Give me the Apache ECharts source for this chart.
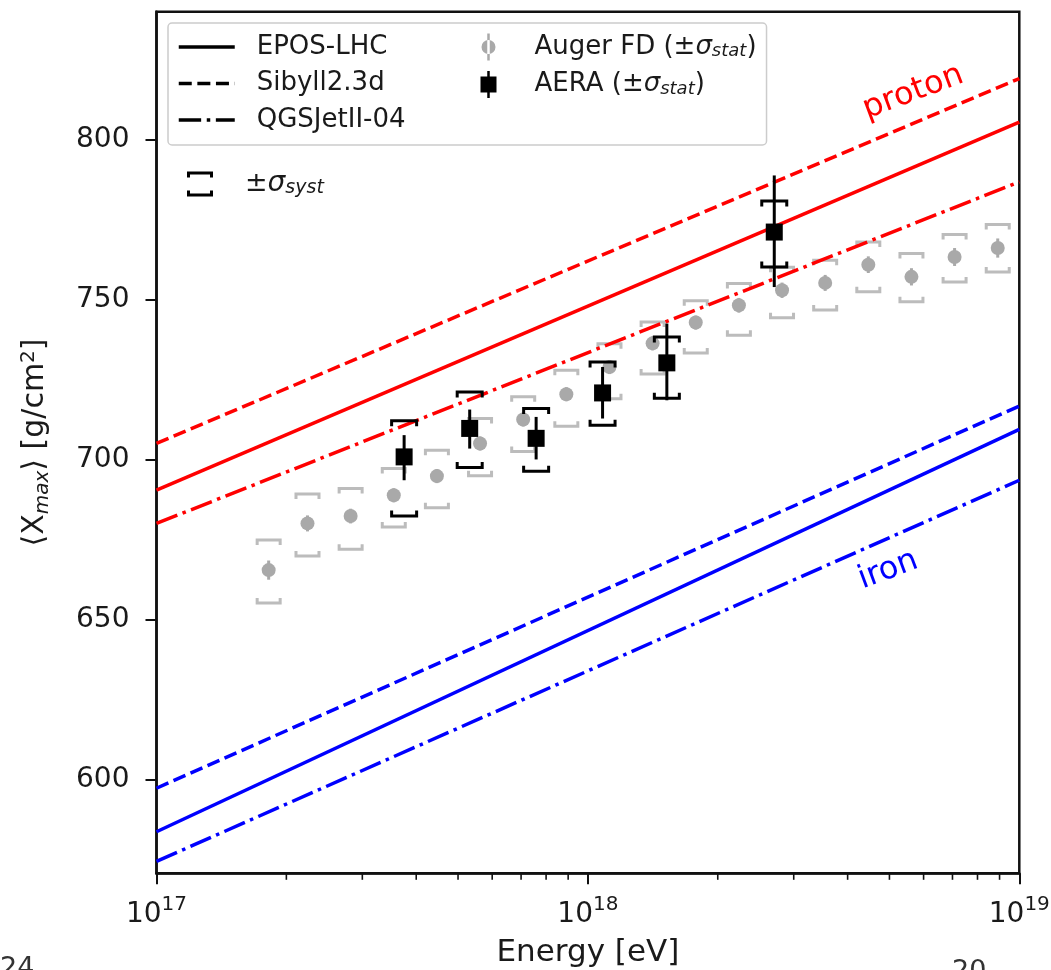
<!DOCTYPE html>
<html>
<head>
<meta charset="utf-8">
<script src="https://cdn.jsdelivr.net/npm/echarts@6/dist/echarts.min.js"></script>
<style>
  html, body { margin: 0; padding: 0; background: #fff; }
  #main { width: 1051px; height: 970px; }
</style>
</head>
<body>
<div id="main"></div>
<script>
const FONT = 'DejaVu Sans';
const INK = '#1a1a1a';

// energies are kept as log10(E / eV)
const modelLgE = [17, 19];
const eposProton = [690.4, 805.5];
const sibyllProton = [705.0, 819.1];
const qgsjetProton = [680.0, 786.8];
const eposIron = [583.6, 709.4];
const sibyllIron = [597.2, 716.7];
const qgsjetIron = [574.3, 693.5];

// Auger FD
const augerLgE = [17.26, 17.35, 17.45, 17.55, 17.65, 17.75, 17.85, 17.95, 18.05, 18.15, 18.25, 18.35, 18.45, 18.55, 18.65, 18.75, 18.85, 18.95];
const augerXmax = [665.4, 680.0, 682.3, 688.8, 694.8, 705.0, 712.5, 720.4, 728.9, 736.3, 742.8, 748.2, 752.9, 755.2, 760.9, 757.1, 763.3, 766.1];
const augerStat = [3.0, 2.5, 2.3, 2.2, 2.2, 2.2, 2.2, 2.2, 2.2, 2.2, 2.2, 2.3, 2.4, 2.5, 2.6, 2.7, 2.8, 3.0];
const augerSystHigh = [674.8, 689.2, 690.9, 697.2, 702.9, 712.8, 719.6, 727.9, 736.2, 743.0, 749.6, 755.0, 760.1, 762.3, 768.0, 764.4, 770.3, 773.5];
const augerSystLow = [655.1, 669.8, 671.9, 678.9, 684.9, 694.9, 702.5, 710.4, 719.0, 726.7, 733.3, 738.8, 744.3, 746.7, 752.4, 749.3, 755.5, 758.6];

// AERA
const aeraLgE = [17.574, 17.726, 17.880, 18.034, 18.183, 18.432];
const aeraXmax = [700.8, 709.7, 706.6, 720.8, 730.2, 771.1];
const aeraStatHigh = [707.6, 715.6, 713.3, 728.9, 742.5, 788.8];
const aeraStatLow = [693.5, 703.4, 700.0, 712.8, 718.5, 753.9];
const aeraSystHigh = [712.1, 721.1, 715.9, 730.5, 738.3, 780.8];
const aeraSystLow = [682.3, 697.5, 696.3, 710.7, 719.1, 760.2];

// axes
const yMin = 570.6, yMax = 840;
const yTicks = [600, 650, 700, 750, 800];
const xDecades = [17, 18];
const xMinorMults = [2, 3, 4, 5, 6, 7, 8, 9];

// text annotations
const annLgE = [18.754, 18.696];
const annXmax = [814.8, 665.4];
const annText = ['proton', 'iron'];
const annColor = ['#ff0000', '#0000ff'];

const SOLID = 'solid';
const DASHED = [13, 5.6];
const DASHDOT = [22.4, 5.6, 3.5, 5.6];
const GREY = '#a9a9a9';
const GREY_SYST = '#bcbcbc';
const CLEAR = 'rgba(0,0,0,0)';

const minorTicks = [];
xDecades.forEach(d => xMinorMults.forEach(m => minorTicks.push(d + Math.log10(m))));

function modelLine(name, values, color, dash) {
  return {
    type: 'line', name: name, silent: true, z: 4,
    symbol: 'none',
    data: modelLgE.map((x, i) => [x, values[i]]),
    lineStyle: { color: color, width: 3.5, type: dash },
    itemStyle: { color: color }
  };
}

// empty series, only there to give the legend its black line samples
function legendLine(name, dash) {
  return {
    type: 'line', name: name, symbol: 'none', data: [],
    lineStyle: { color: '#000', width: 3.5, type: dash },
    itemStyle: { color: '#000' }
  };
}

function renderSyst(color, halfW, tick) {
  return function (params, api) {
    const x = api.value(0);
    const top = api.coord([x, api.value(1)]);
    const bot = api.coord([x, api.value(2)]);
    const st = { stroke: color, lineWidth: 3, fill: null };
    return {
      type: 'group',
      children: [
        { type: 'polyline', shape: { points: [[top[0] - halfW, top[1] + tick], [top[0] - halfW, top[1]], [top[0] + halfW, top[1]], [top[0] + halfW, top[1] + tick]] }, style: st },
        { type: 'polyline', shape: { points: [[bot[0] - halfW, bot[1] - tick], [bot[0] - halfW, bot[1]], [bot[0] + halfW, bot[1]], [bot[0] + halfW, bot[1] - tick]] }, style: st }
      ]
    };
  };
}

function renderPoint(color, shape) {
  return function (params, api) {
    const x = api.value(0);
    const p = api.coord([x, api.value(1)]);
    const lo = api.coord([x, api.value(2)]);
    const hi = api.coord([x, api.value(3)]);
    const marker = shape === 'circle'
      ? { type: 'circle', shape: { cx: p[0], cy: p[1], r: 7 }, style: { fill: color } }
      : { type: 'rect', shape: { x: p[0] - 8.5, y: p[1] - 8.5, width: 17, height: 17 }, style: { fill: color } };
    return {
      type: 'group',
      children: [
        { type: 'line', shape: { x1: p[0], y1: hi[1], x2: p[0], y2: lo[1] }, style: { stroke: color, lineWidth: 3 } },
        marker
      ]
    };
  };
}

const augerIcon = 'path://M5.75,0H8.25V27H5.75Z M0,13.5A7,7 0 1,0 14,13.5A7,7 0 1,0 0,13.5Z';
const aeraIcon = 'path://M6.75,0H9.25V27H6.75Z M0,5.5H16V21.5H0Z';
const systIcon = 'path://M0,0H26V6H23V3H3V6H0Z M0,25H26V19H23V22H3V19H0Z';
const noMarker = { color: CLEAR, borderColor: CLEAR, borderWidth: 0 };

const chart = echarts.init(document.getElementById('main'), null, { renderer: 'canvas' });

const option = {
  animation: false,
  backgroundColor: '#fff',
  textStyle: { fontFamily: FONT },
  grid: {
    left: 156.5, right: 31.7, top: 11.7, bottom: 96.7,
    show: true, borderColor: '#111', borderWidth: 2.5,
    outerBoundsMode: 'none'
  },
  xAxis: {
    type: 'value', min: 17, max: 19, interval: 1,
    axisLine: { show: true, lineStyle: { color: '#111', width: 2.5 } },
    axisTick: { show: true, length: 11, lineStyle: { color: '#111', width: 2 } },
    splitLine: { show: false },
    axisLabel: {
      margin: 21,
      formatter: v => '{b|10}{s|' + v + '}',
      rich: {
        b: { fontFamily: FONT, fontSize: 28, color: INK, lineHeight: 34, verticalAlign: 'bottom' },
        s: { fontFamily: FONT, fontSize: 20, color: INK, lineHeight: 12, verticalAlign: 'top' }
      }
    },
    name: 'Energy [eV]', nameLocation: 'middle', nameGap: 64,
    nameTextStyle: { fontFamily: FONT, fontSize: 31, color: INK }
  },
  yAxis: {
    type: 'value', min: yMin, max: yMax,
    axisLine: { show: true, lineStyle: { color: '#111', width: 2.5 } },
    axisTick: { show: true, length: 11, customValues: yTicks, lineStyle: { color: '#111', width: 2 } },
    splitLine: { show: false },
    axisLabel: { customValues: yTicks, margin: 27, fontFamily: FONT, fontSize: 28, color: INK },
    name: '⟨{x|X}{sub|max}⟩ [g/cm{sup|2}]',
    nameLocation: 'middle', nameRotate: 90, nameGap: 104,
    nameTextStyle: {
      fontFamily: FONT, fontSize: 30, color: INK,
      rich: {
        x: { fontFamily: FONT, fontSize: 30, color: INK, lineHeight: 34 },
        sub: { fontFamily: FONT, fontSize: 20, fontStyle: 'italic', color: INK, lineHeight: 14, verticalAlign: 'bottom' },
        sup: { fontFamily: FONT, fontSize: 20, color: INK, lineHeight: 14, verticalAlign: 'top' }
      }
    }
  },
  legend: [
    {
      orient: 'vertical', left: 168, top: 23, height: 104,
      padding: [10.5, 10, 12, 9],
      itemWidth: 56, itemHeight: 27, itemGap: 10.5,
      selectedMode: false,
      backgroundColor: 'rgba(255,255,255,0.8)',
      borderColor: '#cccccc', borderWidth: 1.5, borderRadius: 4,
      lineStyle: { width: 3.5 },
      data: [
        { name: 'EPOS-LHC', itemStyle: noMarker },
        { name: 'Sibyll2.3d', itemStyle: noMarker },
        { name: 'QGSJetII-04', itemStyle: noMarker },
        { name: 'Auger FD', icon: augerIcon, itemStyle: { color: GREY } },
        { name: 'AERA', icon: aeraIcon, itemStyle: { color: '#000' } }
      ],
      formatter: function (name) {
        if (name === 'Auger FD') return '{f|Auger FD (±}{i|σ}{s|stat}{p|)}';
        if (name === 'AERA') return '{f|AERA (±}{i|σ}{s|stat}{p|)}';
        return '{c|' + name + '}';
      },
      textStyle: {
        fontFamily: FONT, fontSize: 26, color: INK,
        rich: {
          c: { fontFamily: FONT, fontSize: 26, color: INK, lineHeight: 27, width: 191.5, padding: [0, 0, 0, 17] },
          f: { fontFamily: FONT, fontSize: 26, color: INK, lineHeight: 27, padding: [0, 0, 0, 13] },
          p: { fontFamily: FONT, fontSize: 26, color: INK, lineHeight: 27 },
          i: { fontFamily: FONT, fontSize: 26, color: INK, lineHeight: 27, fontStyle: 'italic' },
          s: { fontFamily: FONT, fontSize: 18, color: INK, lineHeight: 14, fontStyle: 'italic', verticalAlign: 'bottom' }
        }
      }
    },
    {
      orient: 'horizontal', left: 187, top: 170, padding: 0,
      itemWidth: 26, itemHeight: 25,
      selectedMode: false,
      data: [{ name: 'syst', icon: systIcon, itemStyle: { color: '#000' } }],
      formatter: () => '{pm|±}{i|σ}{s|syst}',
      textStyle: {
        fontFamily: FONT, fontSize: 27, color: INK,
        rich: {
          pm: { fontFamily: FONT, fontSize: 27, color: INK, lineHeight: 28, padding: [0, 0, 0, 27] },
          i: { fontFamily: FONT, fontSize: 28, color: INK, lineHeight: 28, fontStyle: 'italic' },
          s: { fontFamily: FONT, fontSize: 19, color: INK, lineHeight: 14, fontStyle: 'italic', verticalAlign: 'bottom' }
        }
      }
    }
  ],
  series: [
    {
      type: 'custom', name: 'Auger syst', silent: true, z: 2,
      itemStyle: { color: GREY_SYST },
      data: augerLgE.map((x, i) => [x, augerSystHigh[i], augerSystLow[i]]),
      renderItem: renderSyst(GREY_SYST, 11.5, 5)
    },
    {
      type: 'custom', name: 'Auger FD', silent: true, z: 3,
      itemStyle: { color: GREY },
      data: augerLgE.map((x, i) => [x, augerXmax[i], augerXmax[i] - augerStat[i], augerXmax[i] + augerStat[i]]),
      renderItem: renderPoint(GREY, 'circle')
    },
    modelLine('EPOS-LHC proton', eposProton, '#ff0000', SOLID),
    modelLine('Sibyll2.3d proton', sibyllProton, '#ff0000', DASHED),
    modelLine('QGSJetII-04 proton', qgsjetProton, '#ff0000', DASHDOT),
    modelLine('EPOS-LHC iron', eposIron, '#0000ff', SOLID),
    modelLine('Sibyll2.3d iron', sibyllIron, '#0000ff', DASHED),
    modelLine('QGSJetII-04 iron', qgsjetIron, '#0000ff', DASHDOT),
    legendLine('EPOS-LHC', SOLID),
    legendLine('Sibyll2.3d', DASHED),
    legendLine('QGSJetII-04', DASHDOT),
    {
      type: 'custom', name: 'syst', silent: true, z: 5,
      itemStyle: { color: '#000' },
      data: aeraLgE.map((x, i) => [x, aeraSystHigh[i], aeraSystLow[i]]),
      renderItem: renderSyst('#000', 12.5, 5.5)
    },
    {
      type: 'custom', name: 'AERA', silent: true, z: 6,
      itemStyle: { color: '#000' },
      data: aeraLgE.map((x, i) => [x, aeraXmax[i], aeraStatLow[i], aeraStatHigh[i]]),
      renderItem: renderPoint('#000', 'rect')
    },
    {
      type: 'custom', name: 'minor ticks', silent: true, clip: false, z: 7,
      data: minorTicks.map(v => [v, yMin]),
      renderItem: function (params, api) {
        const p = api.coord([api.value(0), api.value(1)]);
        return { type: 'line', shape: { x1: p[0], y1: p[1], x2: p[0], y2: p[1] + 6.5 }, style: { stroke: '#111', lineWidth: 1.6 } };
      }
    },
    {
      type: 'custom', name: 'labels', silent: true, clip: false, z: 8,
      data: annLgE.map((x, i) => [x, annXmax[i]]),
      renderItem: function (params, api) {
        const i = params.dataIndex;
        const p = api.coord([api.value(0), api.value(1)]);
        return {
          type: 'text', x: p[0], y: p[1], rotation: 20.5 * Math.PI / 180,
          style: { text: annText[i], fill: annColor[i], fontFamily: FONT, fontSize: 32, align: 'center', verticalAlign: 'middle' }
        };
      }
    }
  ],
  graphic: [
    { type: 'text', left: 0, top: 955, style: { text: '24', fill: '#333', fontFamily: FONT, fontSize: 27 } },
    { type: 'text', left: 952, top: 958, style: { text: '20', fill: '#333', fontFamily: FONT, fontSize: 27 } }
  ]
};

chart.setOption(option);
</script>
</body>
</html>
